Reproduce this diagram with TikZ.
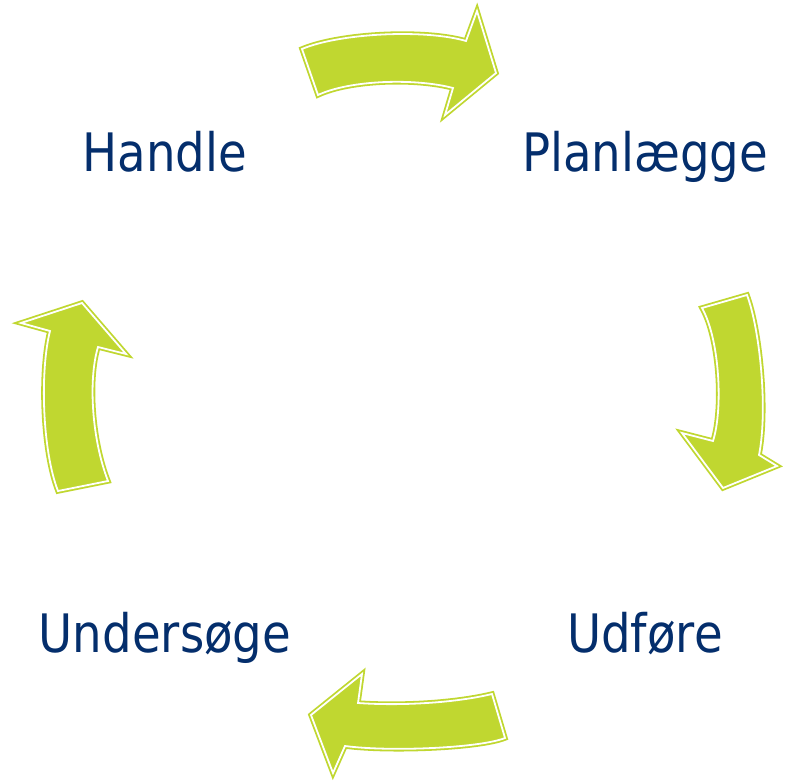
\documentclass[tikz,border=0pt]{standalone}
\usepackage{fontspec}
\setmainfont{DejaVu Sans}[FakeStretch=0.88]
\definecolor{limegreen}{RGB}{192,215,48}
\definecolor{navytext}{RGB}{4,46,108}
\begin{document}
\begin{tikzpicture}[x=1pt,y=-1pt,
  cycarrow/.style={draw=white, line width=1.8pt, line join=miter, miter limit=12,
    preaction={fill=limegreen, draw=limegreen, line width=5.4pt}},
  label/.style={text=navytext, font=\fontsize{53}{60}\selectfont, inner sep=0pt, anchor=base}]
\useasboundingbox (0,0) rectangle (792,783);
% top arrow
\path[cycarrow] (302,49) .. controls (340,33) and (425,29) .. (466,41)
  -- (477,11) -- (496,73) -- (445,115) -- (453,88)
  .. controls (415,78) and (350,80) .. (318,95) -- cycle;
% right arrow
\path[cycarrow] (702,308) -- (747,295)
  .. controls (760,330) and (768,410) .. (759,455)
  -- (777,466) -- (723,488) -- (682,433) -- (713,441)
  .. controls (723,410) and (720,340) .. (702,308) -- cycle;
% bottom arrow
\path[cycarrow] (492,694) -- (505,738)
  .. controls (480,748) and (390,752) .. (345,746)
  -- (333,773) -- (311,715) -- (362,674) -- (358,703)
  .. controls (400,706) and (455,703) .. (492,694) -- cycle;
% left arrow
\path[cycarrow] (58,491) -- (108,481)
  .. controls (92,440) and (88,380) .. (98,347)
  -- (126,354) -- (82,303) -- (21,323) -- (50,331)
  .. controls (40,370) and (42,450) .. (58,491) -- cycle;
% labels
\node[label] (handle) at (165,172) {Handle};
\node[label] (plan) at (645,172) {Planlægge};
\node[label] (udfore) at (645,652) {Udføre};
\node[label] (under) at (165,652) {Undersøge};
\end{tikzpicture}
\end{document}
